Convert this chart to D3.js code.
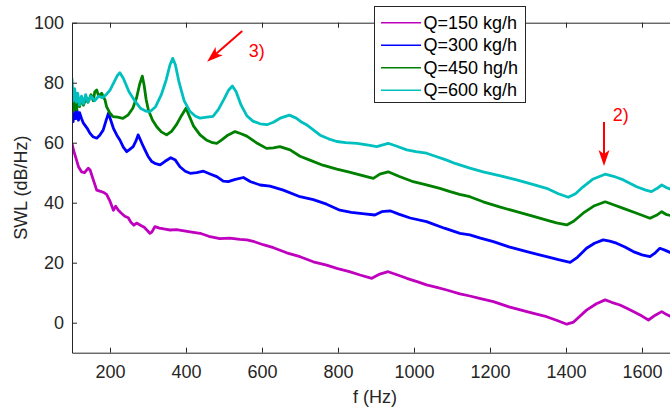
<!DOCTYPE html>
<html>
<head>
<meta charset="utf-8">
<script src="https://cdn.jsdelivr.net/npm/d3@7"></script>
<style>
html,body{margin:0;padding:0;background:#fff;}
svg{display:block;font-family:"Liberation Sans",Arial,Helvetica,sans-serif;}
</style>
</head>
<body>
<svg id="chart" width="670" height="407"></svg>
<script>
// ---- data ----
const seriesNames = ["Q=150 kg/h", "Q=300 kg/h", "Q=450 hg/h", "Q=600 kg/h"];
const seriesColors = ["#bf00bf", "#0000ff", "#008000", "#00bfbf"];

const q150 = [[100,59.8],[104,57.5],[110,55],[117,52],[125,50.3],[133,50],[138,50.8],[143,51.5],[148,50.8],[155,48],[165,44.2],[175,43.8],[185,43.3],[191,42.8],[200,40.5],[209,37.5],[215,38.8],[222,37.5],[230,36.5],[239,35.5],[248,35],[255,33.5],[263,32.5],[270,33.2],[280,32.5],[290,31.8],[300,30.5],[305,29.8],[310,30.2],[318,32],[330,31.5],[345,31.2],[358,30.9],[375,31],[395,30.6],[415,30.2],[437,29.8],[460,28.8],[489,28],[515,28.2],[542,27.8],[560,27.6],[580,27],[603,26],[630,25],[665,23.3],[700,22],[735,20.3],[770,19.2],[797,18.1],[830,17],[858,15.9],[889,14.8],[910,16.2],[932,17],[955,16],[981,14.8],[1010,13.6],[1033,12.6],[1060,11.8],[1086,10.9],[1121,9.6],[1147,8.9],[1175,8],[1209,7],[1250,5.3],[1297,3.7],[1325,2.8],[1349,2],[1375,0.8],[1402,-0.5],[1420,0.2],[1435,2],[1454,4.2],[1480,6.3],[1503,7.6],[1520,6.8],[1542,5.9],[1560,4.8],[1577,3.7],[1600,2.2],[1617,0.9],[1635,2.5],[1652,3.7],[1665,2.7],[1680,1.8]];

const q300 = [[100,69.8],[103,67],[106,71.5],[110,68],[113,70.9],[117,67.5],[120,70],[125,68.1],[130,66.5],[140,64.8],[147,63.2],[155,62],[165,61.5],[173,62.5],[182,64.2],[190,67.5],[196,69.8],[202,67.5],[209,64.8],[218,62.5],[226,60.9],[235,58.5],[244,57],[252,57.8],[261,58.7],[268,60.5],[274,62.6],[278,61.5],[285,59.5],[292,57.6],[300,55.5],[310,53.7],[320,53],[332,52.6],[345,53.8],[360,55],[372,54.2],[384,52],[398,50.5],[411,49.8],[428,50],[446,50.5],[465,49.5],[481,48.7],[498,47.2],[511,47],[530,47.8],[551,48.4],[570,47],[595,45.9],[621,45.5],[656,44.2],[700,42],[735,41],[770,39.5],[805,37.5],[835,36.8],[870,36.3],[897,35.9],[915,37],[937,37.3],[960,36.2],[990,34.9],[1033,33.7],[1080,31.5],[1121,29.8],[1147,29.3],[1175,28.2],[1209,27],[1250,25.3],[1297,23.7],[1325,22.8],[1349,22],[1380,21],[1411,20.1],[1430,21.8],[1454,24.8],[1475,26.5],[1498,27.6],[1515,27.2],[1533,26.5],[1555,25.2],[1577,23.7],[1600,22.6],[1621,22],[1635,23.3],[1647,24.8],[1660,24.2],[1680,23.1]];

const q450 = [[100,73.2],[104,70.5],[108,75],[112,71],[116,74.5],[120,72],[125,75],[130,72.5],[136,74.5],[142,73.5],[150,76],[156,74],[160,77],[165,77.6],[170,75.5],[178,76.5],[187,74.2],[191,72],[200,69.8],[208,68.7],[220,68.5],[234,68.1],[248,69.3],[260,71.5],[270,75],[278,79.5],[285,82.2],[290,79],[295,74.5],[301,70.9],[312,67.5],[323,65.3],[335,63.6],[349,62.6],[362,63.8],[375,66],[388,69],[400,71.5],[410,68.5],[420,65.5],[437,62.6],[455,60.8],[470,60],[481,59.8],[495,61],[510,62.5],[529,63.7],[545,63],[560,62.2],[585,60],[612,58.1],[630,58.3],[647,58.7],[674,57.6],[700,55.5],[726,54.2],[760,52.5],[797,51.2],[830,50.2],[860,49.2],[893,48.1],[910,49.5],[932,50.3],[960,48.8],[998,47],[1030,46],[1068,44.8],[1095,43.7],[1120,42.8],[1147,42],[1182,40.3],[1225,38.6],[1270,37],[1310,35.6],[1349,34.2],[1375,33.3],[1402,32.6],[1420,33.8],[1445,36.5],[1475,39],[1503,40.3],[1525,39.3],[1551,38.1],[1586,36.5],[1621,34.8],[1638,35.8],[1652,37],[1665,36],[1680,35.6]];

const q600 = [[100,81.5],[103,74],[107,78],[111,73.5],[115,76.5],[120,72.5],[125,75.5],[130,73],[136,76],[142,73.5],[150,75.5],[160,74],[170,75.5],[180,75],[190,76],[200,77.5],[210,80],[220,82.5],[226,83.3],[235,81.5],[250,77],[265,74],[280,71.5],[295,70.5],[305,70.3],[320,72],[335,76],[348,81],[358,86],[365,88.1],[372,86],[382,80],[395,74],[410,70.5],[425,68.8],[437,68.2],[455,68.5],[471,68.8],[485,71],[500,74.5],[512,77.5],[522,78.9],[532,77],[545,72.5],[560,69],[576,67.2],[595,66.3],[613,66],[630,66.8],[650,68.3],[672,69.2],[690,68.2],[705,66.8],[717,66],[735,64.3],[753,62.5],[775,61.3],[797,60.4],[820,60],[850,59.8],[880,59.2],[902,58.7],[932,59.8],[955,58.8],[981,57.6],[1005,57],[1033,56.5],[1060,55.3],[1086,54.2],[1110,53],[1147,51.5],[1182,50.3],[1225,49],[1270,47.6],[1310,46.2],[1349,44.8],[1380,43],[1406,41.8],[1425,43],[1445,45.3],[1470,47.8],[1503,49.5],[1525,48.8],[1551,47.6],[1586,45.3],[1610,44.2],[1625,43.7],[1640,44.8],[1652,45.9],[1665,45],[1680,44.2]];

const xTicks = [200, 400, 600, 800, 1000, 1200, 1400, 1600];
const yTicks = [0, 20, 40, 60, 80, 100];
const xDomain = [100, 1700];
const yDomain = [-10, 100];

// annotations in data coordinates: [fStart, vStart, fEnd, vEnd], label [f, v, text]
const arrowsData = [[548, 97.2, 455.5, 87], [1500, 66.9, 1500, 52.2]];
const arrowLabels = [[565, 90.6, "3)"], [1523, 69.3, "2)"]];

// ---- drawing ----
const svg = d3.select("#chart");
const L = 72, R = 680, T = 22.7, B = 352.7;
const x = d3.scaleLinear().domain(xDomain).range([L, R]);
const y = d3.scaleLinear().domain(yDomain).range([B, T]);
const axisColor = "#262626";
const fmt = d3.format("d");

svg.append("defs").append("clipPath").attr("id", "clip")
  .append("rect").attr("x", L).attr("y", T).attr("width", R - L).attr("height", B - T);

const line = d3.line().x(d => x(d[0])).y(d => y(d[1]));
const all = [q150, q300, q450, q600];
svg.append("g").attr("clip-path", "url(#clip)")
  .selectAll("path").data(all).join("path")
  .attr("d", line)
  .attr("fill", "none")
  .attr("stroke", (d, i) => seriesColors[i])
  .attr("stroke-width", 2.8)
  .attr("stroke-linejoin", "round");

// axes
function styleAxis(g) {
  g.selectAll("path.domain").attr("stroke", axisColor).attr("stroke-width", 1);
  g.selectAll(".tick line").attr("stroke", axisColor).attr("stroke-width", 1);
  g.selectAll(".tick text").attr("fill", axisColor).attr("font-size", 18)
    .attr("font-family", "'Liberation Sans',Arial,Helvetica,sans-serif");
}
svg.append("g").attr("transform", `translate(0,${B})`)
  .call(d3.axisBottom(x).tickValues(xTicks).tickFormat(fmt).tickSizeInner(-5).tickSizeOuter(0).tickPadding(13))
  .call(styleAxis);
svg.append("g").attr("transform", `translate(0,${T})`)
  .call(d3.axisTop(x).tickValues(xTicks).tickSizeInner(-5).tickSizeOuter(0).tickFormat(""))
  .call(styleAxis);
svg.append("g").attr("transform", `translate(${L},0)`)
  .call(d3.axisLeft(y).tickValues(yTicks).tickFormat(fmt).tickSizeInner(-5).tickSizeOuter(0).tickPadding(8))
  .call(styleAxis);
svg.append("g").attr("transform", `translate(${R},0)`)
  .call(d3.axisRight(y).tickValues(yTicks).tickSizeInner(-5).tickSizeOuter(0).tickFormat(""))
  .call(styleAxis);

// axis labels
svg.append("text").attr("x", (L + R) / 2 - 1).attr("y", 397)
  .attr("text-anchor", "middle").attr("dominant-baseline", "central")
  .attr("font-size", 18).attr("fill", axisColor).text("f (Hz)");
svg.append("text").attr("transform", `translate(21,${(T + B) / 2}) rotate(-90)`)
  .attr("text-anchor", "middle").attr("dominant-baseline", "central")
  .attr("font-size", 18).attr("fill", axisColor).text("SWL (dB/Hz)");

// annotations
const red = "#ff0000";
function arrow(x1, y1, x2, y2) {
  const dx = x2 - x1, dy = y2 - y1, len = Math.hypot(dx, dy);
  const ux = dx / len, uy = dy / len, px = -uy, py = ux;
  const hl = 16, hw = 5.5, notch = 4;
  const bx = x2 - ux * hl, by = y2 - uy * hl;
  const nx = x2 - ux * (hl - notch), ny = y2 - uy * (hl - notch);
  svg.append("line").attr("x1", x1).attr("y1", y1).attr("x2", nx).attr("y2", ny)
    .attr("stroke", red).attr("stroke-width", 2);
  svg.append("polygon")
    .attr("points", [[x2, y2], [bx + px * hw, by + py * hw], [nx, ny], [bx - px * hw, by - py * hw]].map(p => p.join(",")).join(" "))
    .attr("fill", red);
}
arrowsData.forEach(a => arrow(x(a[0]), y(a[1]), x(a[2]), y(a[3])));
arrowLabels.forEach(l => svg.append("text").attr("x", x(l[0])).attr("y", y(l[1]))
  .attr("dominant-baseline", "central").attr("font-size", 18).attr("fill", red).text(l[2]));

// legend
const lg = svg.append("g");
lg.append("rect").attr("x", 374.5).attr("y", 6.5).attr("width", 151).attr("height", 96)
  .attr("fill", "#fff").attr("stroke", axisColor).attr("stroke-width", 1);
const rowY = [22.7, 45.2, 67.8, 90.3];
seriesNames.forEach((n, i) => {
  lg.append("line").attr("x1", 381).attr("x2", 421).attr("y1", rowY[i]).attr("y2", rowY[i])
    .attr("stroke", seriesColors[i]).attr("stroke-width", 1.6);
  lg.append("text").attr("x", 423.5).attr("y", rowY[i]).attr("dominant-baseline", "central")
    .attr("font-size", 18).attr("fill", "#000").text(n);
});
</script>
</body>
</html>
